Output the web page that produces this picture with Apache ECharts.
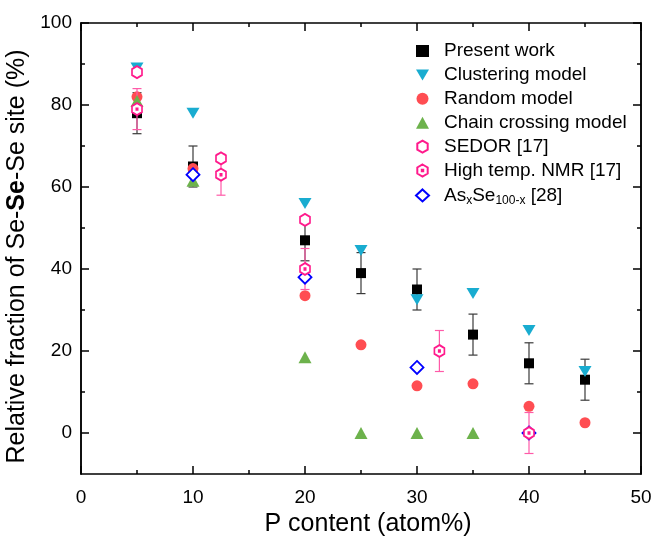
<!DOCTYPE html>
<html><head><meta charset="utf-8">
<script src="https://cdn.jsdelivr.net/npm/echarts@6/dist/echarts.min.js"></script>
<style>html,body{margin:0;padding:0;background:#fff}#c{width:652px;height:538px}</style>
</head><body><div id="c"></div>
<script>
// ---- data ----
const presentX = [5, 10, 20, 25, 30, 35, 40, 45];
const presentY = [78, 65, 47, 39, 35, 24, 17, 13];
const presentErr = [5, 5, 5, 5, 5, 5, 5, 5];
const clusteringX = [5, 10, 20, 25, 30, 35, 40, 45];
const clusteringY = [89, 78, 56, 44.5, 32.5, 34, 25, 15];
const randomX = [5, 10, 20, 25, 30, 35, 40, 45];
const randomY = [82, 64.5, 33.5, 21.5, 11.5, 12, 6.5, 2.5];
const chainX = [5, 10, 20, 25, 30, 35];
const chainY = [81, 61.5, 18.5, 0, 0, 0];
const sedorX = [5, 12.5, 20];
const sedorY = [88, 67, 52];
const nmrX = [5, 12.5, 20, 32, 40];
const nmrY = [79, 63, 40, 20, 0];
const nmrErr = [5, 5, 5, 5, 5];
const asSeX = [10, 20, 30, 40];
const asSeY = [63, 38, 16, 0];
const yMajorTicks = [0, 20, 40, 60, 80, 100];
const yMinorTicks = [10, 30, 50, 70, 90];
const seriesNames = ['Present work', 'Clustering model', 'Random model', 'Chain crossing model', 'SEDOR [17]', 'High temp. NMR [17]', 'AsxSe100-x [28]'];

// ---- chart ----
const FONT = "'Liberation Sans', Arial, sans-serif";
const zip = (xs, ys) => xs.map((x, i) => [x, ys[i]]);
const zip3 = (xs, ys, es) => xs.map((x, i) => [x, ys[i], es[i]]);
const HEX = 'path://M0,-10L8.66,-5L8.66,5L0,10L-8.66,5L-8.66,-5Z';
const HEXDOT = 'path://M0,-10L8.66,-5L8.66,5L0,10L-8.66,5L-8.66,-5Z M-1.2,-1.2L1.2,-1.2L1.2,1.2L-1.2,1.2Z';
const DOWNTRI = 'path://M0,0L13,0L6.5,11Z';
const PINK = '#ff1a8c';

function errBar(color) {
  return function (params, api) {
    const x = api.value(0), y = api.value(1), e = api.value(2);
    const p1 = api.coord([x, y + e]), p2 = api.coord([x, y - e]);
    const w = 4.5;
    const st = { stroke: color, lineWidth: 1.2 };
    return { type: 'group', children: [
      { type: 'line', shape: { x1: p1[0], y1: p1[1], x2: p2[0], y2: p2[1] }, style: st },
      { type: 'line', shape: { x1: p1[0] - w, y1: p1[1], x2: p1[0] + w, y2: p1[1] }, style: st },
      { type: 'line', shape: { x1: p2[0] - w, y1: p2[1], x2: p2[0] + w, y2: p2[1] }, style: st }
    ] };
  };
}

const lineSt = { color: '#000', width: 1.5 };
function yAx(pos, ticks, len, withLabel) {
  return {
    type: 'value', position: pos, min: -10, max: 100,
    axisLine: { show: true, onZero: false, lineStyle: lineSt },
    axisTick: { show: true, inside: true, length: len, customValues: ticks, lineStyle: lineSt },
    axisLabel: withLabel ? { show: true, customValues: ticks, margin: 9, fontSize: 19, color: '#000', fontFamily: FONT } : { show: false },
    splitLine: { show: false }
  };
}
const yAxes = [yAx('left', yMajorTicks, 8, true), yAx('left', yMinorTicks, 4, false), yAx('right', yMajorTicks, 8, false), yAx('right', yMinorTicks, 4, false)];
yAxes[0].name = 'Relative fraction of Se-{b|Se}-Se site (%)';
yAxes[0].nameLocation = 'middle';
yAxes[0].nameGap = 31;
yAxes[0].nameTextStyle = { fontSize: 25, color: '#000', fontFamily: FONT, padding: [0, 16, 0, 0], rich: { b: { fontSize: 25, fontWeight: 'bold', color: '#000', fontFamily: FONT } } };

function xAx(pos, withLabel) {
  return {
    type: 'value', position: pos, min: 0, max: 50, interval: 10,
    axisLine: { show: true, onZero: false, lineStyle: lineSt },
    axisTick: { show: true, inside: true, length: 8, lineStyle: lineSt },
    minorTick: { show: true, splitNumber: 2, length: 4, lineStyle: lineSt },
    axisLabel: withLabel ? { show: true, margin: 14, fontSize: 19, color: '#000', fontFamily: FONT } : { show: false },
    splitLine: { show: false }, minorSplitLine: { show: false }
  };
}
const xAxes = [xAx('bottom', true), xAx('top', false)];
xAxes[0].name = 'P content (atom%)';
xAxes[0].nameLocation = 'middle';
xAxes[0].nameGap = 37;
xAxes[0].nameTextStyle = { fontSize: 25, color: '#000', fontFamily: FONT, padding: [0, 0, 0, 14] };

const legendData = seriesNames.map(n => n === 'Clustering model' ? { name: n, icon: DOWNTRI } : n);

const option = {
  backgroundColor: '#fff',
  animation: false,
  grid: { left: 81, right: 11, top: 23, bottom: 64, outerBoundsMode: 'none', containLabel: false },
  xAxis: xAxes,
  yAxis: yAxes,
  legend: {
    orient: 'vertical', left: 410, top: 36,
    itemWidth: 13, itemHeight: 12, itemGap: 3.9,
    data: legendData,
    formatter: function (n) { return n === 'AsxSe100-x [28]' ? '{n|As}{s|x}{n|Se}{s|100-x}{n| [28]}' : n; },
    textStyle: {
      fontSize: 19, color: '#000', fontFamily: FONT, lineHeight: 20, padding: [0, 0, 0, 10],
      rich: {
        n: { fontSize: 19, color: '#000', fontFamily: FONT, lineHeight: 20 },
        s: { fontSize: 12, color: '#000', fontFamily: FONT, lineHeight: 20, padding: [10, 0, 0, 0] }
      }
    }
  },
  series: [
    { type: 'custom', name: 'presentErr', renderItem: errBar('#3a3a3a'), data: zip3(presentX, presentY, presentErr), z: 1, silent: true },
    { type: 'scatter', name: 'Present work', data: zip(presentX, presentY), symbol: 'rect', symbolSize: 10, itemStyle: { color: '#000', opacity: 1 }, z: 2 },
    { type: 'scatter', name: 'Clustering model', data: zip(clusteringX, clusteringY), symbol: 'triangle', symbolRotate: 180, symbolSize: [13, 11], itemStyle: { color: '#19acd0', opacity: 1 }, z: 3 },
    { type: 'scatter', name: 'Random model', data: zip(randomX, randomY), symbol: 'circle', symbolSize: 11, itemStyle: { color: '#ff4d52', opacity: 1 }, z: 4 },
    { type: 'scatter', name: 'Chain crossing model', data: zip(chainX, chainY), symbol: 'triangle', symbolSize: [13, 12], itemStyle: { color: '#6db24c', opacity: 1 }, z: 5 },
    { type: 'custom', name: 'nmrErr', renderItem: errBar('#ff5aa8'), data: zip3(nmrX, nmrY, nmrErr), z: 5, silent: true },
    { type: 'scatter', name: 'SEDOR [17]', data: zip(sedorX, sedorY), symbol: HEX, symbolSize: [10, 12], itemStyle: { color: '#fff', borderColor: PINK, borderWidth: 1.8, opacity: 1 }, z: 6 },
    { type: 'scatter', name: 'High temp. NMR [17]', data: zip(nmrX, nmrY), symbol: HEXDOT, symbolSize: [10, 12], itemStyle: { color: '#fff', borderColor: PINK, borderWidth: 1.8, opacity: 1 }, z: 7 },
    { type: 'scatter', name: 'AsxSe100-x [28]', data: zip(asSeX, asSeY), symbol: 'diamond', symbolSize: 13, itemStyle: { color: '#fff', borderColor: '#0000ff', borderWidth: 1.8, opacity: 1 }, z: 6 }
  ]
};
const chart = echarts.init(document.getElementById('c'));
chart.setOption(option);
</script>
</body></html>
